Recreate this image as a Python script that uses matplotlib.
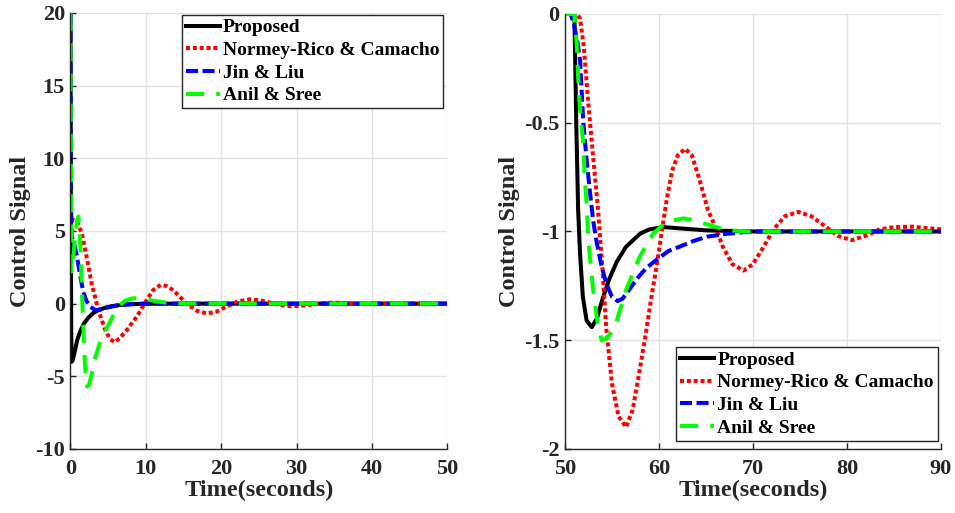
import numpy as np
import matplotlib
matplotlib.use('Agg')
import matplotlib.pyplot as plt

plt.rcParams['font.family'] = ['Liberation Serif', 'DejaVu Serif']
plt.rcParams['font.weight'] = 'bold'
plt.rcParams['axes.unicode_minus'] = False

labels = ['Proposed', 'Normey-Rico & Camacho', 'Jin & Liu', 'Anil & Sree']

# setpoint change, t = 0..50 s
t1_prop = [0, 0.05, 0.1, 0.15, 0.3, 0.6, 0.9, 1.3, 1.8, 2.4, 3.0, 3.7, 4.5, 5.5, 6.5, 8, 10, 12, 50]
u1_prop = [20, 5, -2, -4.0, -3.9, -3.2, -2.5, -1.9, -1.35, -0.95, -0.65, -0.45, -0.3, -0.17, -0.1, -0.04, -0.01, 0, 0]

t1_nrc = [0, 0.6, 1.0, 1.5, 2.15, 2.8, 3.7, 4.6, 5.2, 5.8, 6.5, 7.5, 8.8, 10.1, 11, 12, 12.8, 13.7, 15.4,
          16.8, 18.1, 19.4, 20.7, 22.2, 23.8, 25.2, 26.1, 27.6, 29.2, 30.6, 31.8, 33.3, 34.9, 36.5, 38,
          39.5, 41, 50]
u1_nrc = [5.8, 5.75, 5.5, 4.85, 3.2, 1.4, -0.45, -1.8, -2.4, -2.65, -2.4, -1.8, -0.9, 0.25, 0.95, 1.3, 1.2,
          0.9, 0.0, -0.5, -0.68, -0.55, -0.2, 0.15, 0.3, 0.22, 0.12, -0.08, -0.18, -0.15, -0.08, 0.03, 0.07,
          0.04, -0.02, -0.03, 0, 0]

t1_jin = [0, 0.05, 0.15, 0.4, 0.8, 1.1, 1.4, 1.7, 2.1, 2.6, 3.1, 3.6, 4.2, 5, 6, 7.5, 9, 11, 50]
u1_jin = [20, 8, 4.6, 4.3, 3.4, 2.5, 1.6, 0.8, 0.2, -0.2, -0.38, -0.45, -0.38, -0.25, -0.15, -0.05, -0.01, 0, 0]

t1_anil = [0, 0.06, 0.12, 0.3, 0.6, 0.9, 1.05, 1.2, 1.35, 1.5, 1.65, 1.85, 2.05, 2.2, 2.45, 2.8, 3.3, 3.9,
           4.8, 5.7, 6.4, 7.2, 8.3, 9.5, 11, 12.5, 14, 16, 50]
u1_anil = [20, 10, 2.2, 2.8, 4.5, 5.8, 6.0, 5.2, 3.5, 1.2, -1.0, -3.5, -5.3, -5.7, -5.6, -4.9, -3.7, -2.7,
           -1.7, -0.8, -0.2, 0.2, 0.37, 0.35, 0.2, 0.08, 0.02, 0, 0]

# load disturbance, t = 50..90 s
t2_prop = [50, 51.0, 51.1, 51.2, 51.3, 51.4, 51.6, 51.9, 52.3, 52.85, 53.4, 54, 54.7, 55.5, 56.5, 58, 59,
           60.5, 62, 65, 70, 90]
u2_prop = [0, 0, -0.25, -0.5, -0.7, -0.9, -1.1, -1.3, -1.41, -1.44, -1.4, -1.31, -1.22, -1.14, -1.07,
           -1.01, -0.99, -0.98, -0.985, -0.995, -1, -1]

t2_nrc = [50, 51.2, 51.6, 52, 52.5, 53, 53.5, 54, 54.4, 55, 55.7, 56.5, 57.2, 57.9, 58.6, 59.2, 59.75,
          60.3, 60.8, 61.4, 62, 62.8, 63.5, 64.3, 65.2, 66, 66.8, 67.8, 69, 70, 71, 72.2, 73.4, 74.8, 76.2,
          77.8, 79, 80.5, 82, 83.5, 85, 87, 88.5, 90]
u2_nrc = [0, 0, -0.02, -0.15, -0.42, -0.66, -0.89, -1.18, -1.45, -1.7, -1.85, -1.9, -1.82, -1.65, -1.47,
          -1.3, -1.16, -1.0, -0.86, -0.72, -0.65, -0.62, -0.65, -0.76, -0.9, -0.98, -1.07, -1.15, -1.18,
          -1.15, -1.08, -0.99, -0.93, -0.91, -0.93, -0.98, -1.02, -1.04, -1.02, -0.99, -0.98, -0.978,
          -0.985, -0.99]

t2_jin = [50, 50.6, 50.9, 51.3, 51.6, 51.95, 52.3, 52.66, 53.0, 53.37, 53.9, 54.4, 55, 55.6, 56.1, 56.8,
          57.6, 58.6, 59.75, 61, 62.2, 63.6, 65.1, 67, 69.7, 90]
u2_jin = [0, 0, -0.04, -0.12, -0.21, -0.5, -0.67, -0.82, -0.95, -1.05, -1.16, -1.24, -1.3, -1.32, -1.31,
          -1.27, -1.22, -1.17, -1.13, -1.09, -1.07, -1.045, -1.024, -1.012, -1.0, -1.0]

t2_anil = [50, 51.0, 51.24, 51.4, 51.6, 51.95, 52.1, 52.3, 52.5, 53, 53.5, 53.9, 54.5, 55.3, 56.5, 57.95,
           59.4, 60.8, 62.6, 63.6, 64.7, 67.2, 69.3, 90]
u2_anil = [0, 0, -0.135, -0.29, -0.44, -0.6, -0.75, -0.87, -1.05, -1.27, -1.43, -1.5, -1.49, -1.44, -1.27,
           -1.116, -1.009, -0.955, -0.94, -0.947, -0.962, -0.993, -1.0, -1.0]

colors = ['black', '#ff0000', '#0000ff', '#00ff00']
dashes = [None, (1, 0.7), (3, 1.1), (4.5, 3)]
lw = 2.9

fig = plt.figure(figsize=(9.55, 5.13), dpi=100)
ax1 = fig.add_axes([0.0738, 0.1248, 0.3947, 0.8499])
ax2 = fig.add_axes([0.5916, 0.1248, 0.3937, 0.8480])

curves1 = [(t1_prop, u1_prop), (t1_nrc, u1_nrc), (t1_jin, u1_jin), (t1_anil, u1_anil)]
curves2 = [(t2_prop, u2_prop), (t2_nrc, u2_nrc), (t2_jin, u2_jin), (t2_anil, u2_anil)]

for ax, curves in [(ax1, curves1), (ax2, curves2)]:
    for i, (t, u) in enumerate(curves):
        line, = ax.plot(t, u, color=colors[i], lw=lw, label=labels[i])
        if dashes[i] is not None:
            line.set_dashes(dashes[i])
    ax.grid(True, color='#e3e3e3', lw=1.0)
    ax.set_axisbelow(True)
    for s in ['top', 'right']:
        ax.spines[s].set_visible(False)
    for s in ['left', 'bottom']:
        ax.spines[s].set_color('#262626')
        ax.spines[s].set_linewidth(1.0)
    ax.tick_params(direction='in', length=4, width=1, color='#262626', labelsize=16,
                   labelcolor='#262626')
    ax.tick_params(axis='x', pad=7)
    ax.tick_params(axis='y', pad=4)
    for lab in ax.get_xticklabels() + ax.get_yticklabels():
        lab.set_fontweight('bold')
    ax.set_xlabel('Time(seconds)', fontsize=17.5, fontweight='bold', color='#262626', labelpad=1)
    ax.set_ylabel('Control Signal', fontsize=17.5, fontweight='bold', color='#262626', labelpad=3)

ax1.set_xlim(0, 50)
ax1.set_ylim(-10, 20)
ax1.set_xticks(np.arange(0, 51, 10))
ax1.set_yticks(np.arange(-10, 21, 5))

ax2.set_xlim(50, 90)
ax2.set_ylim(-2, 0)
ax2.set_xticks(np.arange(50, 91, 10))
ax2.set_yticks([-2, -1.5, -1, -0.5, 0])
ax2.set_yticklabels(['-2', '-1.5', '-1', '-0.5', '0'])

leg_kw = dict(fontsize=14, handlelength=1.75, handletextpad=0.15, labelspacing=0.26,
              borderpad=0.2, borderaxespad=0, fancybox=False, framealpha=1,
              edgecolor='#262626', bbox_transform=fig.transFigure)
leg1 = ax1.legend(loc='upper right', bbox_to_anchor=(0.4642, 0.9708), **leg_kw)
leg2 = ax2.legend(loc='lower right', bbox_to_anchor=(0.9819, 0.1409), **leg_kw)
for leg in [leg1, leg2]:
    leg.get_frame().set_linewidth(1.0)
    for txt in leg.get_texts():
        txt.set_fontweight('bold')

fig.savefig('out.png', dpi=100)
